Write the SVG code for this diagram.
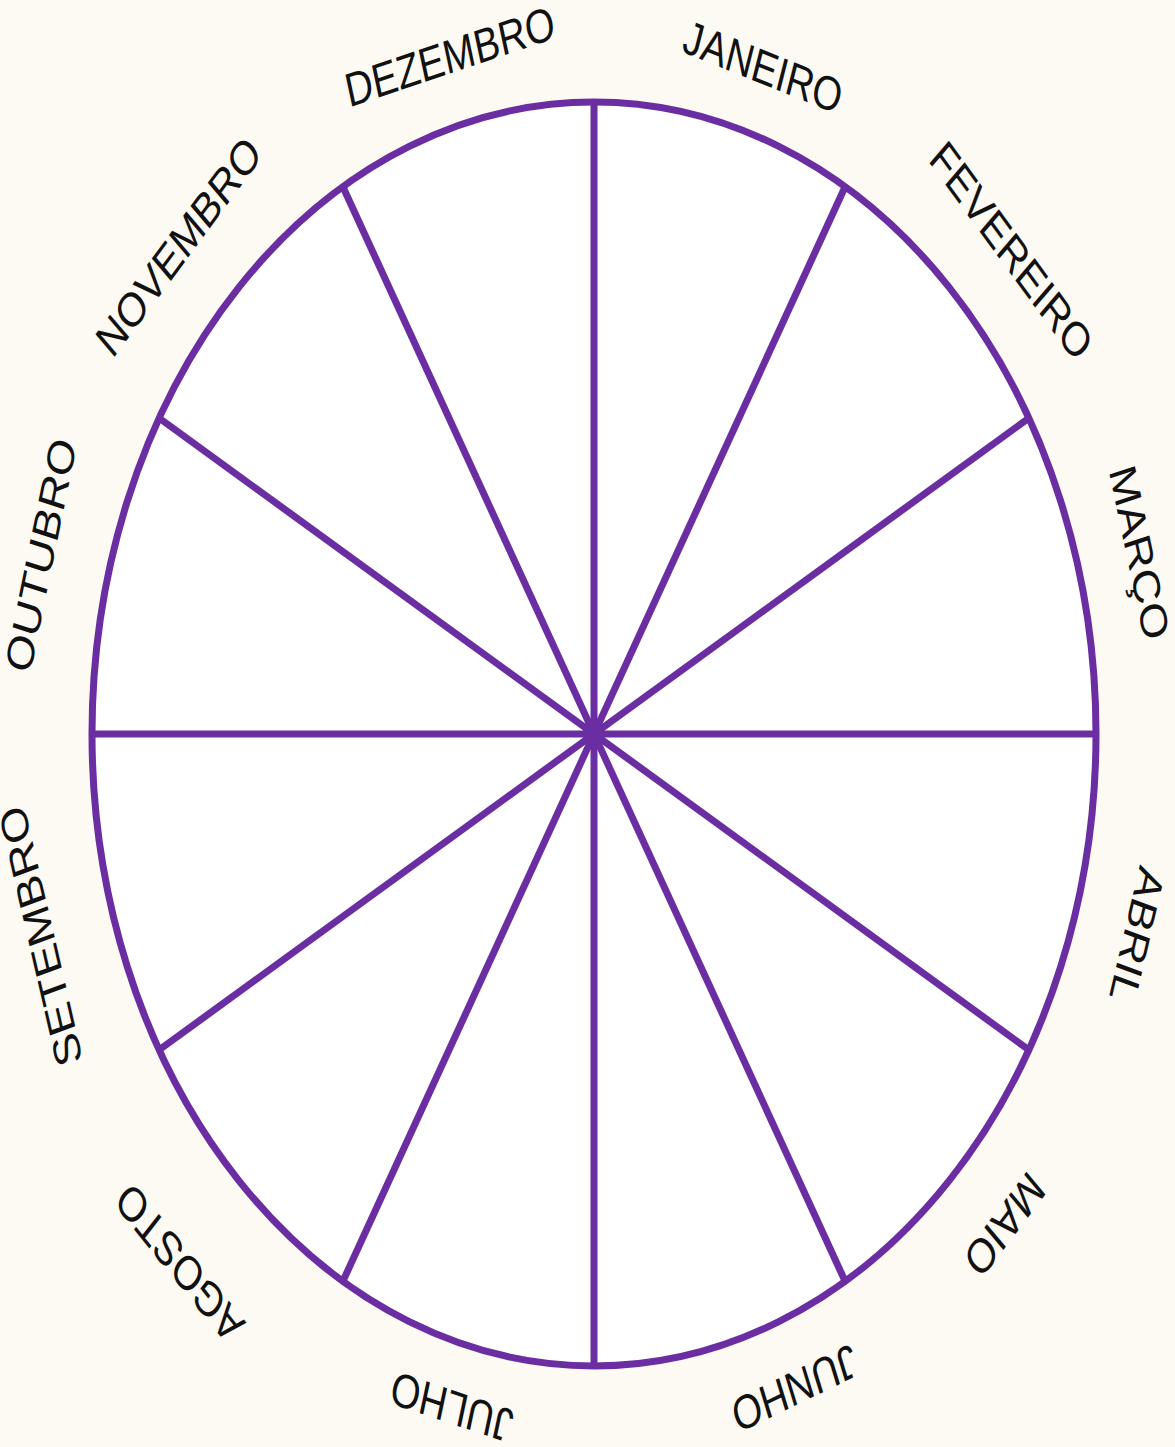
<svg xmlns="http://www.w3.org/2000/svg" width="1175" height="1447" viewBox="0 0 1175 1447">
<style>
.ln{stroke:#6a2ea2;stroke-width:7;stroke-linecap:butt}
.lb{font-family:"Liberation Sans",Arial,sans-serif;font-size:38px;fill:#111;text-anchor:middle}
</style>
<rect width="1175" height="1447" fill="#fdfaf4"/>
<g id="wheel">
<ellipse cx="594" cy="734" rx="502" ry="632" style="fill:#ffffff" class="ln"/>
</g>
<g id="spokes" fill="none">
<line class="ln" x1="594" y1="102" x2="594" y2="1366"/>
<line class="ln" x1="92" y1="734" x2="1096" y2="734"/>
<line class="ln" x1="845" y1="187" x2="343" y2="1281"/>
<line class="ln" x1="1029" y1="418" x2="159" y2="1050"/>
<line class="ln" x1="1029" y1="1050" x2="159" y2="418"/>
<line class="ln" x1="845" y1="1281" x2="343" y2="187"/>
<circle cx="594" cy="734" r="11" fill="#6a2ea2"/>
</g>
<g id="labels" transform="translate(594,734) scale(1,1.259)">
<g id="jan" transform="rotate(17.7)"><text class="lb" y="-543">JANEIRO</text></g>
<g id="fev" transform="rotate(47.4)"><text class="lb" y="-554">FEVEREIRO</text></g>
<g id="mar" transform="rotate(75.2)"><text class="lb" y="-551">MARÇO</text></g>
<g id="abr" transform="rotate(106.4)"><text class="lb" y="-553">ABRIL</text></g>
<g id="mai" transform="rotate(133.5)"><text class="lb" y="-553">MAIO</text></g>
<g id="jun" transform="rotate(158.9)"><text class="lb" y="-544">JUNHO</text></g>
<g id="jul" transform="rotate(194.9)"><text class="lb" y="-540">JULHO</text></g>
<g id="ago" transform="rotate(224.6)"><text class="lb" y="-577">AGOSTO</text></g>
<g id="set" transform="rotate(253.8)"><text class="lb" y="-563">SETEMBRO</text></g>
<g id="out" transform="rotate(284.4)"><text class="lb" y="-558">OUTUBRO</text></g>
<g id="nov" transform="rotate(313)"><text class="lb" y="-555">NOVEMBRO</text></g>
<g id="dez" transform="rotate(345)"><text class="lb" y="-544">DEZEMBRO</text></g>
</g>
</svg>
